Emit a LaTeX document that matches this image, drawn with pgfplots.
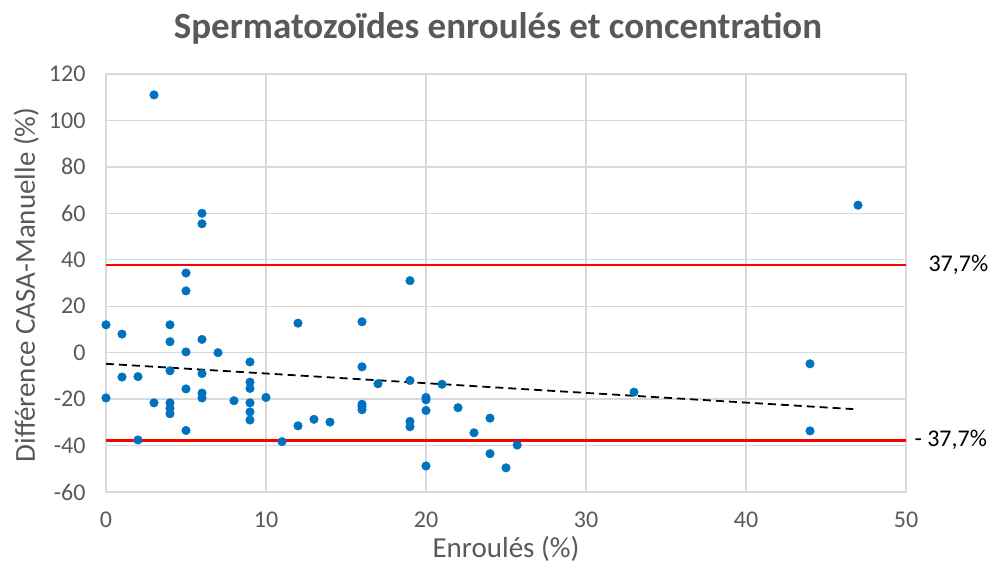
\documentclass[border=0pt]{standalone}
\usepackage{fontspec}
\setmainfont{Carlito}
\usepackage{pgfplots}
\pgfplotsset{compat=1.18}
\definecolor{ptblue}{HTML}{0070C0}
\definecolor{gridc}{HTML}{D9D9D9}
\definecolor{txt}{HTML}{595959}
\begin{document}
\begin{tikzpicture}
\begin{axis}[
  at={(0pt,0pt)}, anchor=south west,
  scale only axis, width=800pt, height=418pt,
  xmin=0, xmax=50, ymin=-60, ymax=120,
  xtick={0,10,...,50}, ytick={-60,-40,...,120},
  grid=major, major grid style={gridc, line width=1.3pt},
  axis line style={gridc, line width=1.3pt},
  major tick length=0pt,
  /pgf/number format/assume math mode=true,
  tick label style={font=\fontsize{24}{28}\selectfont, text=txt},
  xticklabel style={yshift=-16pt},
  yticklabel style={xshift=-17pt},
  clip=false,
]
\addplot[red, line width=2.6pt] coordinates {(0,37.7) (50,37.7)};
\addplot[red, line width=2.6pt] coordinates {(0,-37.7) (50,-37.7)};
\addplot[black, line width=1.8pt, dash pattern=on 8pt off 5pt] coordinates {(0,-4.8) (46.7,-24.3)};
\addplot[only marks, mark=*, mark size=4.3pt, color=ptblue, mark options={draw=ptblue, fill=ptblue}] table {
x y
3 111
6 60
6 55.5
5 34.3
5 26.6
0 12
1 8
4 12
4 4.7
6 5.7
5 0.3
7 0
9 -4
1 -10.5
2 -10.3
4 -7.8
6 -9
5 -15.6
9 -12.7
9 -15.4
0 -19.5
3 -21.6
4 -21.6
4 -24
4 -26.3
6 -17.4
6 -19.5
8 -20.7
9 -21.6
9 -25.5
9 -29
10 -19.3
5 -33.5
2 -37.6
11 -38.3
19 31
12 12.7
16 13.3
16 -6.1
17 -13.4
19 -12
21 -13.6
20 -19.3
20 -20.3
20 -24.9
22 -23.7
16 -22.2
16 -23.2
16 -24.6
12 -31.5
13 -28.7
14 -29.9
19 -29.6
19 -31.9
24 -28.2
23 -34.5
25.7 -39.8
24 -43.5
25 -49.6
20 -48.8
47 63.5
33 -17
44 -4.8
44 -33.7
};
\node[anchor=west, font=\fontsize{24}{28}\selectfont, xshift=19pt] at (axis cs:50,37.7) {37,7\%};
\node[anchor=west, font=\fontsize{24}{28}\selectfont, xshift=5pt] at (axis cs:50,-37.7) {- 37,7\%};
\end{axis}
\node[font=\fontsize{37}{42}\selectfont\bfseries, text=txt] at (392pt,464pt) {Spermatozoïdes enroulés et concentration};
\node[anchor=base, font=\fontsize{29}{33}\selectfont, text=txt] at (400pt,-66pt) {Enroulés (\%)};
\node[anchor=base, rotate=90, font=\fontsize{29}{33}\selectfont, text=txt] at (-71pt,207pt) {Différence CASA-Manuelle (\%)};
\pgfresetboundingbox
\path[use as bounding box] (-106pt,-75.3pt) rectangle (882pt,492pt);
\end{tikzpicture}
\end{document}
